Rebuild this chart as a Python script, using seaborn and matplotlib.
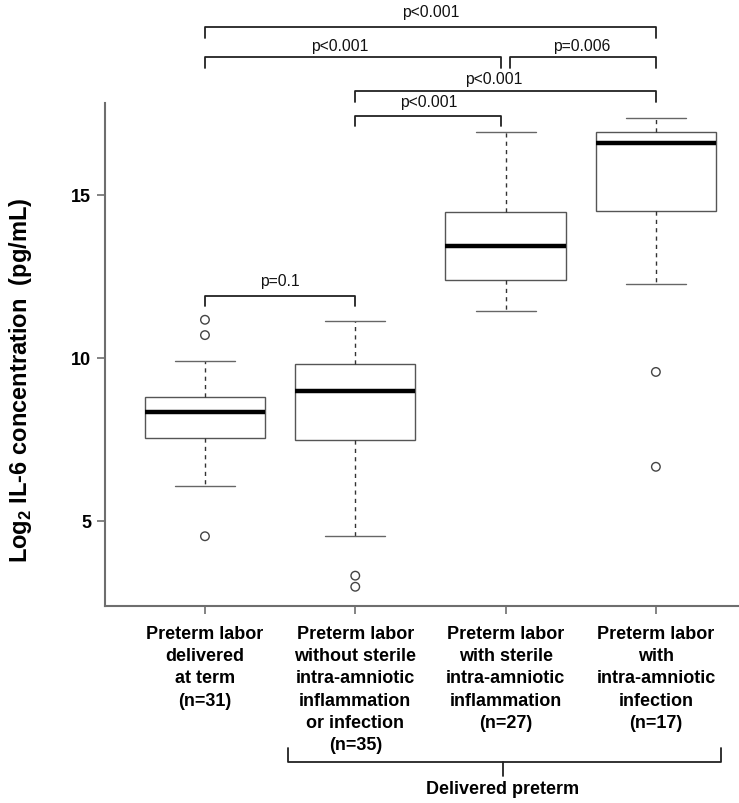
import numpy as np
import pandas as pd
import matplotlib
matplotlib.use("Agg")
import matplotlib.pyplot as plt
import seaborn as sns

# groups on the x axis
groups = [
    "Preterm labor\ndelivered\nat term\n(n=31)",
    "Preterm labor\nwithout sterile\nintra-amniotic\ninflammation\nor infection\n(n=35)",
    "Preterm labor\nwith sterile\nintra-amniotic\ninflammation\n(n=27)",
    "Preterm labor\nwith\nintra-amniotic\ninfection\n(n=17)",
]

# five-number summaries (log2 pg/mL)
whisker_low = [6.06, 4.54, 11.43, 12.26]
q1 = [7.55, 7.48, 12.38, 14.50]
median = [8.33, 8.97, 13.44, 16.59]
q3 = [8.79, 9.81, 14.49, 16.94]
whisker_high = [9.92, 11.13, 16.92, 17.37]

# outliers (group index, value)
outlier_group = [0, 0, 0, 1, 1, 3, 3]
outlier_value = [10.70, 11.17, 4.53, 3.32, 2.98, 9.57, 6.66]

# pairwise comparisons: start group, end group, bracket level, p-value text, text x, text y
comparisons = [
    (0.0, 3.0, 20.14, "p<0.001", 1.50, 20.62),
    (0.0, 1.97, 19.22, "p<0.001", 0.90, 19.58),
    (2.03, 3.0, 19.22, "p=0.006", 2.51, 19.58),
    (1.0, 3.0, 18.18, "p<0.001", 1.92, 18.58),
    (1.0, 1.97, 17.43, "p<0.001", 1.49, 17.87),
    (0.0, 1.0, 11.91, "p=0.1", 0.50, 12.37),
]


def build_frame():
    """Long-form table with the five summary values per group."""
    rows = []
    for i, g in enumerate(groups):
        for v in (whisker_low[i], q1[i], median[i], q3[i], whisker_high[i]):
            rows.append({"group": g, "value": v})
    return pd.DataFrame(rows)


sns.set_style("ticks")
plt.rcParams["font.family"] = ["Liberation Sans", "DejaVu Sans"]
plt.rcParams["text.color"] = "black"
plt.rcParams["mathtext.fontset"] = "custom"
plt.rcParams["mathtext.rm"] = "Liberation Sans"
plt.rcParams["mathtext.bf"] = "Liberation Sans:bold"

df = build_frame()

fig = plt.figure(figsize=(7.39, 8.04), dpi=100)
ax = fig.add_axes([105 / 739, (804 - 607) / 804, 634 / 739, 503 / 804])

sns.boxplot(
    data=df, x="group", y="value", order=groups, ax=ax,
    whis=(0, 100), width=0.8, showfliers=False,
    color="white", linecolor="#555555", linewidth=1.0,
    medianprops=dict(color="black", linewidth=3.2),
    whiskerprops=dict(color="#333333", linestyle=(0, (3, 3)), linewidth=1.0),
    capprops=dict(color="#666666", linewidth=1.0),
)

sns.scatterplot(
    x=outlier_group, y=outlier_value, ax=ax, marker="o", s=38,
    facecolors="none", edgecolor="#444444", linewidth=1.0, zorder=3,
)

ax.set_xlim(-0.665, 3.553)
ax.set_ylim(2.39, 17.82)
ax.set_yticks([5, 10, 15])
ax.set_xlabel("")
ax.set_ylabel("")
sns.despine(ax=ax)
for side in ("left", "bottom"):
    ax.spines[side].set_color("#6e6e6e")
    ax.spines[side].set_linewidth(1.5)

ax.tick_params(axis="both", length=6, width=1.2, color="#6e6e6e",
               labelsize=13, labelcolor="black")
ax.tick_params(axis="y", pad=4)
ax.tick_params(axis="x", pad=7.5)
for lbl in ax.get_yticklabels():
    lbl.set_fontweight("bold")
for lbl in ax.get_xticklabels():
    lbl.set_fontweight("bold")
    lbl.set_linespacing(1.41)

# significance brackets above the boxes
for x1, x2, y, label, xt, yt in comparisons:
    ax.plot([x1, x1, x2, x2], [y - 0.32, y, y, y - 0.32],
            color="#222222", linewidth=1.3, clip_on=False)
    ax.text(xt, yt, label, ha="center", va="center", fontsize=11.3, color="#111111")

# brace grouping the preterm deliveries
ax.plot([0.55, 0.55, 3.43, 3.43], [-1.97, -2.39, -2.39, -1.97],
        color="#222222", linewidth=1.3, clip_on=False)
ax.plot([1.98, 1.98], [-2.39, -2.82], color="#222222", linewidth=1.3, clip_on=False)
ax.text(1.98, -3.22, "Delivered preterm", ha="center", va="center",
        fontsize=13, fontweight="bold", color="black")

fig.text(21 / 739, 1 - 380 / 804, r"Log$_\mathbf{2}$ IL-6 concentration  (pg/mL)",
         rotation=90, ha="center", va="center", fontsize=17, fontweight="bold",
         color="black")

fig.savefig("out.png", dpi=100)
